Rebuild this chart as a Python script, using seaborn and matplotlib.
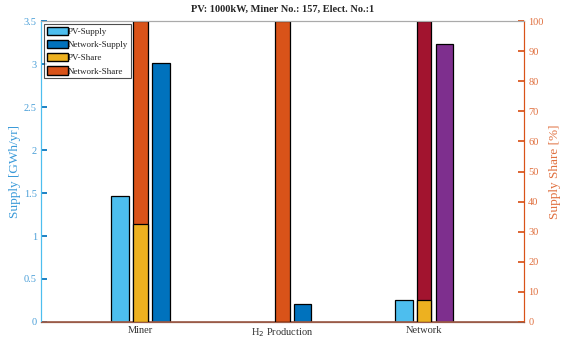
import pandas as pd
import matplotlib
matplotlib.use('Agg')
import matplotlib.pyplot as plt
from matplotlib.patches import Patch
from matplotlib.ticker import FuncFormatter
import seaborn as sns

# Data
categories = ['Miner', 'H$_2$ Production', 'Network']
pv_supply = [1.46, 0.0, 0.25]          # GWh/yr
network_supply = [3.01, 0.21, 3.23]    # GWh/yr
pv_share = [32.7, 0.0, 7.2]            # %
network_share = [67.3, 100.0, 92.8]    # %

# MATLAB default colours
c_pv = '#4DBEEE'
c_net = '#0072BD'
c_pvshare = '#EDB120'
c_netshare = '#D95319'
c_net_network = '#7E2F8E'
c_netshare_network = '#A2142F'

sns.set_theme(style='white')
plt.rcParams['font.family'] = ['Liberation Serif', 'DejaVu Serif']

supply = pd.concat([
    pd.DataFrame({'cat': categories, 'val': pv_supply, 'kind': 'PV-Supply'}),
    pd.DataFrame({'cat': categories, 'val': network_supply, 'kind': 'Network-Supply'}),
])
share = pd.DataFrame({'cat': categories, 'pv': pv_share,
                      'total': [p + n for p, n in zip(pv_share, network_share)]})

fig = plt.figure(figsize=(5.66, 3.45), dpi=100)
ax = fig.add_axes([0.0724, 0.0667, 0.8534, 0.8723])
ax2 = ax.twinx()

# supply bars, middle slot left free for the stacked share bar
sns.barplot(data=supply, x='cat', y='val', hue='kind', order=categories,
            hue_order=['PV-Supply', '_gap', 'Network-Supply'],
            palette={'PV-Supply': c_pv, '_gap': 'white', 'Network-Supply': c_net},
            width=0.429, gap=0.13, saturation=1, edgecolor='black', linewidth=0.9,
            legend=False, ax=ax)
for bar in ax.containers[-1][2:]:
    bar.set_facecolor(c_net_network)

# stacked share bars (network share drawn as full stack, pv share on top)
sns.barplot(data=share, x='cat', y='total', order=categories, color=c_netshare,
            width=0.102, saturation=1, edgecolor='black', linewidth=0.9, ax=ax2)
for bar in ax2.containers[0][2:]:
    bar.set_facecolor(c_netshare_network)
sns.barplot(data=share, x='cat', y='pv', order=categories, color=c_pvshare,
            width=0.102, saturation=1, edgecolor='black', linewidth=0.9, ax=ax2)

ax.set_xlim(-0.702, 2.705)
ax2.set_xlim(-0.702, 2.705)
ax.set_ylim(0, 3.5)
ax2.set_ylim(0, 100)
ax.set_yticks([0, 0.5, 1, 1.5, 2, 2.5, 3, 3.5])
ax.yaxis.set_major_formatter(FuncFormatter(lambda v, p: f'{v:g}'))
ax2.set_yticks(range(0, 101, 10))
ax.axhline(0, color='#9a5b48', lw=1.2, zorder=5)

ax.set_xlabel('')
ax2.set_xlabel('')
ax.set_ylabel('Supply [GWh/yr]', color='#3a9ad9', fontsize=9.5, labelpad=2)
ax2.set_ylabel('Supply Share [%]', color='#e0703f', fontsize=9.5, rotation=90, labelpad=4)
ax.set_title('PV: 1000kW, Miner No.: 157, Elect. No.:1', fontsize=7.5,
             fontweight='bold', pad=7)

ax.tick_params(axis='y', direction='in', length=4, color=c_net, labelcolor='#4a9fd8',
               labelsize=7.5, pad=3)
ax2.tick_params(axis='y', direction='in', length=4, color=c_netshare,
                labelcolor='#e0703f', labelsize=7.5, pad=3)
ax.tick_params(axis='x', length=0, labelsize=7.5, labelcolor='#333333', pad=3)
ax2.xaxis.set_visible(True)
ax2.tick_params(axis='x', direction='in', length=4, width=0.8, color='#222222',
                top=True, bottom=True, labelbottom=False, labeltop=False)

for a in (ax, ax2):
    a.spines['top'].set_color('#aaaaaa')
    a.spines['bottom'].set_color('#9a5b48')
    a.spines['left'].set_color(c_pv)
    a.spines['right'].set_color(c_netshare)
    for s in a.spines.values():
        s.set_linewidth(0.8)

handles = [Patch(facecolor=c_pv, edgecolor='black', label='PV-Supply'),
           Patch(facecolor=c_net, edgecolor='black', label='Network-Supply'),
           Patch(facecolor=c_pvshare, edgecolor='black', label='PV-Share'),
           Patch(facecolor=c_netshare, edgecolor='black', label='Network-Share')]
leg = ax2.legend(handles=handles, loc='upper left', fontsize=6.5, frameon=True,
                 fancybox=False, edgecolor='#222222', borderpad=0.3,
                 labelspacing=0.45, handlelength=2.3, handleheight=1.0,
                 handletextpad=0.05, borderaxespad=0.35)
leg.get_frame().set_linewidth(0.8)

fig.savefig('out.png', dpi=100)
